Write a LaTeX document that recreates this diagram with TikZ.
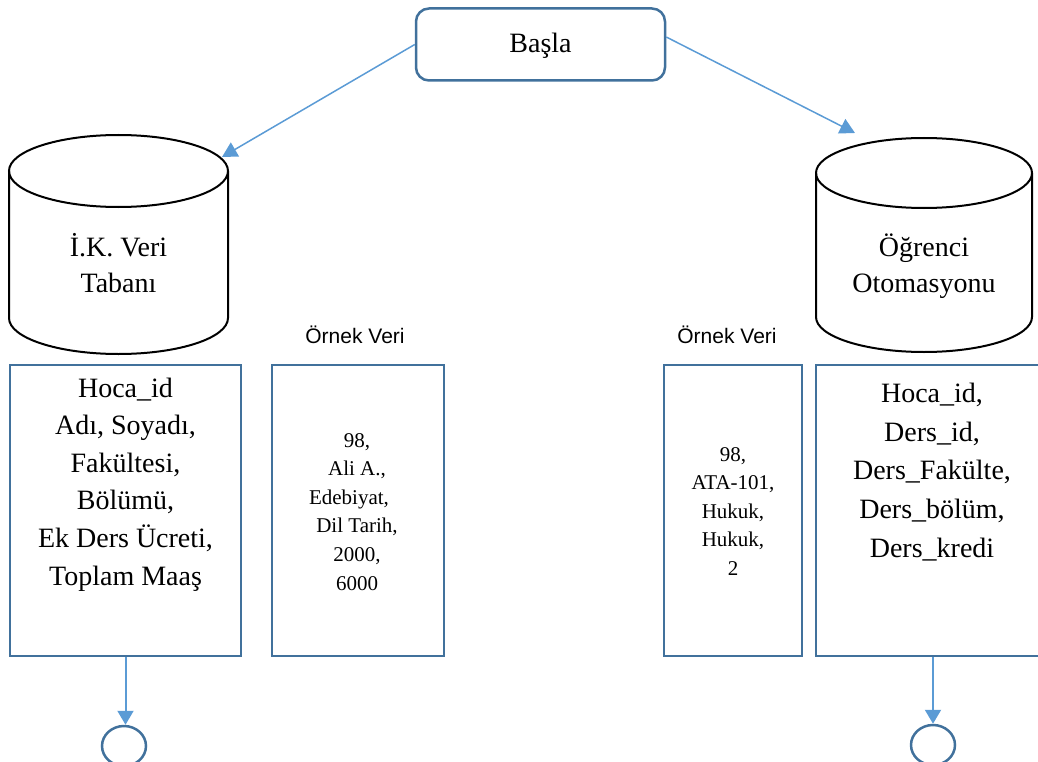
\documentclass[tikz,border=0pt]{standalone}
\usepackage{fontspec}
\setmainfont{Liberation Serif}
\newfontfamily\labelsans{Liberation Sans}
\usetikzlibrary{arrows.meta,shapes.geometric}
\definecolor{boxblue}{HTML}{41719C}
\definecolor{linkblue}{HTML}{5B9BD5}
% centred lines whose first baseline is the box baseline
\newcommand{\linestack}[1]{\begin{tabular}[t]{@{}c@{}}#1\end{tabular}}
\begin{document}
\begin{tikzpicture}[x=1pt,y=-1pt,
  bigtext/.style={font=\fontsize{28}{37.6}\selectfont, inner sep=0pt, anchor=base},
  bigtextb/.style={font=\fontsize{28}{38.7}\selectfont, inner sep=0pt, anchor=base},
  cyltext/.style={font=\fontsize{28}{36.5}\selectfont, inner sep=0pt, anchor=base},
  smalltext/.style={font=\fontsize{21}{28.6}\selectfont, inner sep=0pt, anchor=base},
  samplelabel/.style={font=\labelsans\fontsize{21}{25}\selectfont, inner sep=0pt, anchor=base},
  fieldbox/.style={draw=boxblue, line width=2.5pt, inner sep=0pt, minimum height=291pt},
  dbline/.style={draw=black, line width=2pt},
  link/.style={draw=linkblue, line width=1.5pt, -{Triangle[length=15pt,width=16pt]}},
  downlink/.style={draw=linkblue, line width=2pt, -{Triangle[length=14pt,width=16pt]}},
  endmark/.style={draw=boxblue, line width=2.5pt, ellipse, inner sep=0pt, minimum width=44pt, minimum height=40pt}
]
\useasboundingbox (0,0) rectangle (1038,762);

% start box
\node[draw=boxblue, line width=2.5pt, rounded corners=13pt, minimum width=249pt,
      minimum height=72pt, inner sep=0pt, text height=20pt, text depth=3pt,
      font=\fontsize{28}{34}\selectfont] (basla) at (540.5,44.5) {Başla};

% left database cylinder
\draw[dbline] (9,171) -- (9,318) arc[start angle=180, end angle=360, x radius=109.5pt, y radius=36pt] -- (228,171);
\draw[dbline] (118.5,171) ellipse [x radius=109.5pt, y radius=36pt];
\node[cyltext] (ikdb) at (118.5,256) {\linestack{İ.K. Veri\\Tabanı}};
\coordinate (ikTop) at (222,157);

% right database cylinder
\draw[dbline] (816,173) -- (816,317) arc[start angle=180, end angle=360, x radius=108pt, y radius=35pt] -- (1032,173);
\draw[dbline] (924,173) ellipse [x radius=108pt, y radius=35pt];
\node[cyltext] (ogrdb) at (924,256) {\linestack{Öğrenci\\Otomasyonu}};
\coordinate (ogrTop) at (855,133);

% arrows from the start box
\draw[link] (basla.west) -- (ikTop);
\draw[link] ([yshift=7.5pt]basla.east) -- (ogrTop);

% field boxes
\node[fieldbox, minimum width=231pt] (ikfields) at (125.5,510.5) {};
\node[fieldbox, minimum width=172pt] (iksample) at (358,510.5) {};
\node[fieldbox, minimum width=138pt] (ogrsample) at (733,510.5) {};
\node[fieldbox, minimum width=234pt] (ogrfields) at (933,510.5) {};

\node[samplelabel] (iksamplelabel) at (355,343) {Örnek Veri};
\node[samplelabel] (ogrsamplelabel) at (727,343) {Örnek Veri};

\node[bigtext] (ikfieldstext) at (125.5,397) {\linestack{Hoca\_id\\Adı, Soyadı,\\Fakültesi,\\Bölümü,\\Ek Ders Ücreti,\\Toplam Maaş}};
\node[smalltext] (iksampletext) at (357,447) {\linestack{98,\\Ali A.,\\Edebiyat,\hspace*{16pt}\\Dil Tarih,\\2000,\\6000}};
\node[smalltext] (ogrsampletext) at (733,461) {\linestack{98,\\ATA-101,\\Hukuk,\\Hukuk,\\2}};
\node[bigtextb] (ogrfieldstext) at (932,402.5) {\linestack{Hoca\_id,\\Ders\_id,\\Ders\_Fakülte,\\Ders\_bölüm,\\Ders\_kredi}};

% end markers
\node[endmark] (ikend) at (124,746) {};
\node[endmark] (ogrend) at (933,745) {};
\draw[downlink] (ikfields.south) -- (ikfields.south |- ikend.north);
\draw[downlink] (ogrfields.south) -- (ogrfields.south |- ogrend.north);
\end{tikzpicture}
\end{document}
